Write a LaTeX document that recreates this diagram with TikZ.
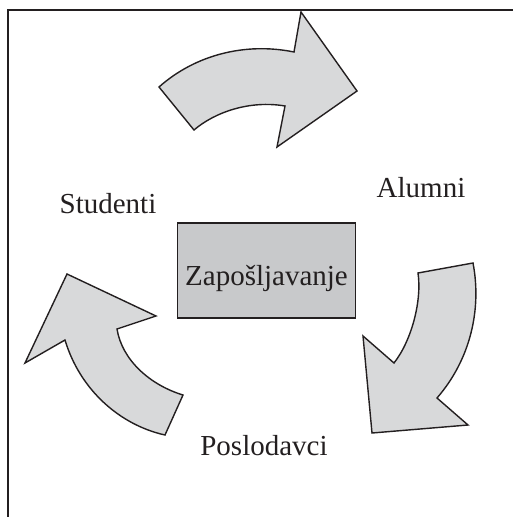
\documentclass[tikz,border=0pt]{standalone}
\usepackage{fontspec}
\setmainfont{Liberation Serif}
\definecolor{arrowgray}{HTML}{D8D9DA}
\definecolor{boxgray}{HTML}{C8C9CB}
\definecolor{inkdark}{HTML}{231F20}
\begin{document}
\begin{tikzpicture}[x=1pt,y=-1pt,
  cyclearrow/.style={draw=inkdark,fill=arrowgray,line width=1.4pt,line join=miter},
  label/.style={font=\fontsize{29}{34}\selectfont,text=inkdark,anchor=base,inner sep=0pt},
  centerbox/.style={draw=inkdark,fill=boxgray,line width=1.8pt,minimum width=178pt,minimum height=95pt,inner sep=0pt}]
\useasboundingbox (0,0) rectangle (513,517);

% open frame: top and left edges
\draw[inkdark,line width=2pt] (8,517) -- (8,10) -- (513,10);

% top arrow: Studenti -> Alumni
\draw[cyclearrow] (159,87) -- (194,130)
  .. controls (215,112) and (250,100) .. (285,106)
  -- (277,147) -- (357,91) -- (301,12) -- (294,52)
  .. controls (245,42) and (195,55) .. (159,87) -- cycle;

% right arrow: Alumni -> Poslodavci
\draw[cyclearrow] (418,273) -- (473,263)
  .. controls (482,310) and (470,360) .. (437,398)
  -- (468,425) -- (372,433) -- (363,336) -- (394,363)
  .. controls (412,340) and (422,300) .. (418,273) -- cycle;

% left arrow: Poslodavci -> Studenti
\draw[cyclearrow] (67,274) -- (156,316) -- (117,329)
  .. controls (122,360) and (150,385) .. (183,395)
  -- (165,435)
  .. controls (120,425) and (80,390) .. (65,340)
  -- (25,363) -- cycle;

% centre box
\node[centerbox] (zap) at (266.5,270.5) {};
\node[label] (zaptext) at (266.5,285) {Zapošljavanje};

% stage labels
\node[label] (studenti) at (108,213) {Studenti};
\node[label] (alumni) at (421,197) {Alumni};
\node[label] (poslodavci) at (264,455) {Poslodavci};
\end{tikzpicture}
\end{document}
